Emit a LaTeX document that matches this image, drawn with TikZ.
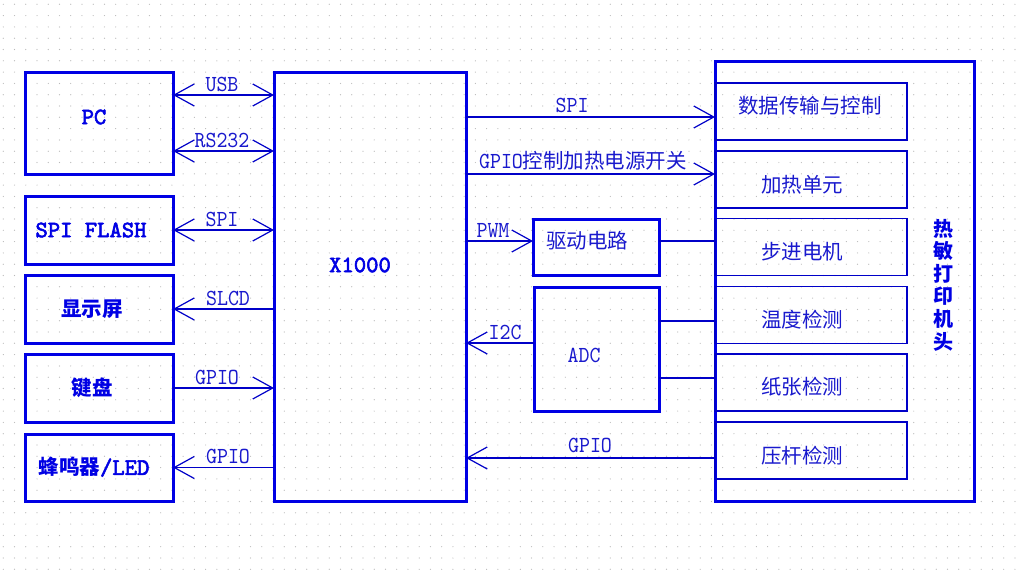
\documentclass[tikz,border=0pt]{standalone}
\usepackage{fontspec}
\setmainfont{Liberation Serif}
\newfontfamily\lmmono{lmmono10-regular}[Extension=.otf, FakeStretch=0.91]
\newfontfamily\lmbold{lmmono10-regular}[Extension=.otf, FakeBold=2.5]
\newfontfamily\cjk{Noto Sans CJK SC}
\usetikzlibrary{arrows.meta}
\definecolor{boxblue}{RGB}{0,0,228}
\definecolor{lnblue}{RGB}{0,0,200}
\definecolor{txtblue}{RGB}{25,25,205}
\definecolor{dotgray}{RGB}{185,185,185}
\newcommand\zh[1]{{\cjk\fontsize{20.5}{24}\selectfont #1}}
\tikzset{
  blk/.style={draw=boxblue, line width=3pt, inner sep=0pt, outer sep=0pt},
  sub/.style={draw=lnblue, line width=1.3pt, inner sep=0pt, outer sep=0pt, minimum width=192pt, minimum height=57pt},
  lbl/.style={text=txtblue, inner sep=0pt, font=\lmmono\fontsize{23}{26}\selectfont},
  bold/.style={text=boxblue, inner sep=0pt, font=\lmbold\bfseries\fontsize{23.5}{27}\selectfont},
  link/.style={draw=lnblue, line width=1.2pt},
  >={Straight Barb[length=20pt,width=22pt]}
}
\begin{document}
\begin{tikzpicture}[x=1pt,y=-1pt]
  \fill[white] (0,0) rectangle (1020,576);
  \useasboundingbox (0,0) rectangle (1020,576);
  \foreach \i in {0,...,90}
    \foreach \j in {0,...,50}
      \fill[dotgray] (3.3+11.24*\i,4.3+11.3*\j) circle (0.6);

  % left side
  \node (pc) [blk, minimum width=148pt, minimum height=102pt] at (99,123) {};
  \node (flash) [blk, minimum width=148pt, minimum height=68pt] at (99,230) {};
  \node (lcd) [blk, minimum width=148pt, minimum height=68pt] at (99,309) {};
  \node (key) [blk, minimum width=148pt, minimum height=68pt] at (99,388) {};
  \node (buzz) [blk, minimum width=148pt, minimum height=67pt] at (99,467.5) {};
  \node (pclbl) [bold] at (94,117) {PC};
  \node (flashlbl) [bold] at (91,230) {SPI FLASH};
  \node (lcdlbl) [bold] at (92,309) {\zh{显示屏}};
  \node (keylbl) [bold] at (92,388) {\zh{键盘}};
  \node (buzzlbl) [bold] at (94,467) {\zh{蜂鸣器}/LED};

  % main chip
  \node (mcu) [blk, minimum width=192pt, minimum height=429pt] at (370,286.5) {};
  \node (mculbl) [bold] at (360,265) {X1000};

  % printer head
  \node (head) [blk, minimum width=259pt, minimum height=440pt] at (844.5,281) {};
  \node (data) [sub] at (811,111.5) {};
  \node (heat) [sub] at (811,179.5) {};
  \node (motor) [sub] at (811,247) {};
  \node (temp) [sub] at (811,315) {};
  \node (paper) [sub] at (811,382.5) {};
  \node (lever) [sub] at (811,450.5) {};
  \node (datalbl) [lbl] at (810,106) {\zh{数据传输与控制}};
  \node (heatlbl) [lbl] at (802,185) {\zh{加热单元}};
  \node (motorlbl) [lbl] at (802,252) {\zh{步进电机}};
  \node (templbl) [lbl] at (802,320) {\zh{温度检测}};
  \node (paperlbl) [lbl] at (802,387) {\zh{纸张检测}};
  \node (leverlbl) [lbl] at (802,456) {\zh{压杆检测}};
  \node (headlbl) [bold, align=center, font=\cjk\bfseries\fontsize{20}{22.6}\selectfont] at (943,285) {热\\敏\\打\\印\\机\\头};

  % middle blocks
  \node (drive) [blk, minimum width=126pt, minimum height=56pt] at (596,247) {};
  \node (drivelbl) [lbl] at (587,241) {\zh{驱动电路}};
  \node (adc) [blk, minimum width=125pt, minimum height=124pt] at (596.5,349) {};
  \node (adclbl) [lbl] at (584,355) {ADC};

  % left links
  \draw [link,<->] ([yshift=28pt]pc.east) -- ([yshift=28pt]pc.east -| mcu.west);
  \draw [link,<->] ([yshift=-28pt]pc.east) -- ([yshift=-28pt]pc.east -| mcu.west);
  \draw [link,<->] (flash.east) -- (flash.east -| mcu.west);
  \draw [link,<-] (lcd.east) -- (lcd.east -| mcu.west);
  \draw [link,->] (key.east) -- (key.east -| mcu.west);
  \draw [link,<-] (buzz.east) -- (buzz.east -| mcu.west);
  \node (usblbl) [lbl] at (222,84) {USB};
  \node (rslbl) [lbl] at (222,140) {RS232};
  \node (spilbl) [lbl] at (222,219) {SPI};
  \node (slcdlbl) [lbl] at (228,298) {SLCD};
  \node (kgpiolbl) [lbl] at (217,377) {GPIO};
  \node (bgpiolbl) [lbl] at (228,456) {GPIO};

  % right links
  \draw [link,->] ([yshift=-5.5pt]data.west -| mcu.east) -- ([yshift=-5.5pt]data.west);
  \draw [link,->] ([yshift=5.5pt]heat.west -| mcu.east) -- ([yshift=5.5pt]heat.west);
  \draw [link,->] ([yshift=6pt]drive.west -| mcu.east) -- ([yshift=6pt]drive.west);
  \draw [link] ([yshift=6pt]drive.east) -- ([yshift=6pt]drive.east -| motor.west);
  \draw [link] ([yshift=28pt]adc.east) -- ([yshift=28pt]adc.east -| temp.west);
  \draw [link] ([yshift=-29pt]adc.east) -- ([yshift=-29pt]adc.east -| paper.west);
  \draw [link,->] ([yshift=6pt]adc.west) -- ([yshift=6pt]adc.west -| mcu.east);
  \draw [link,->] ([yshift=-7.5pt]lever.west) -- ([yshift=-7.5pt]lever.west -| mcu.east);
  \node (rspilbl) [lbl] at (572,105) {SPI};
  \node (hgpiolbl) [lbl] at (583,161) {GPIO\zh{控制加热电源开关}};
  \node (pwmlbl) [lbl] at (493,231) {PWM};
  \node (i2clbl) [lbl] at (505,332) {I2C};
  \node (lgpiolbl) [lbl] at (590,445) {GPIO};
\end{tikzpicture}
\end{document}
